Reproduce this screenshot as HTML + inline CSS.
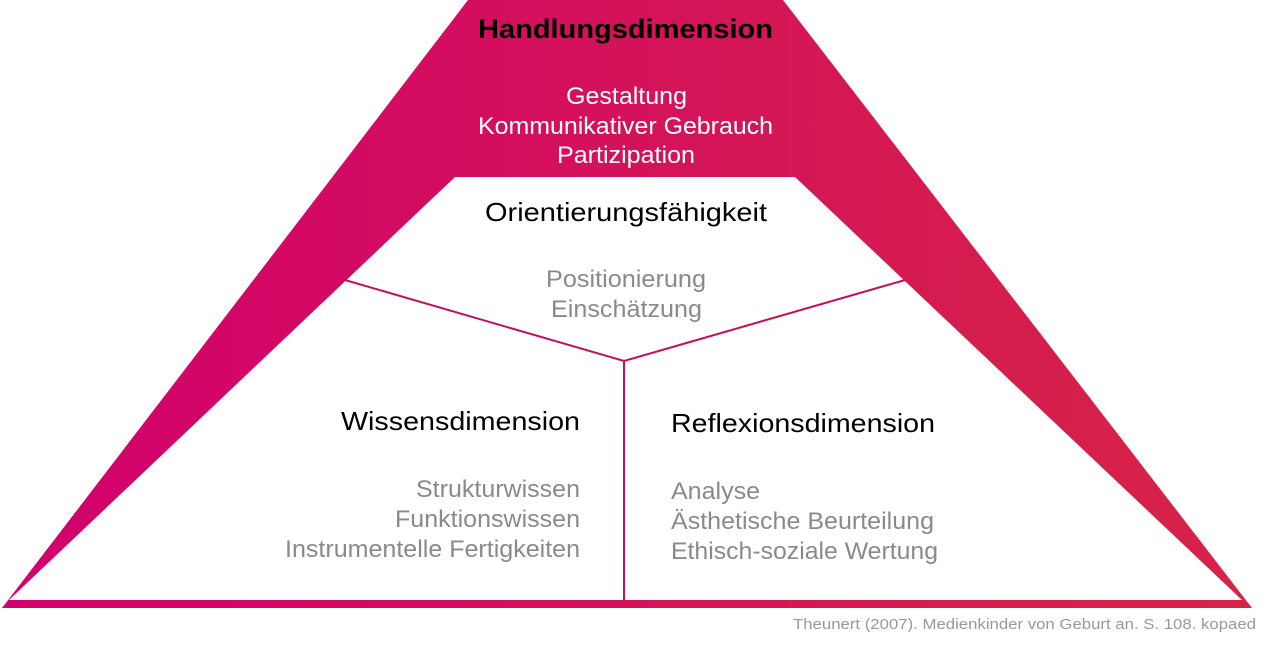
<!DOCTYPE html>
<html><head><meta charset="utf-8"><style>
html,body{margin:0;padding:0;background:#fff;width:1271px;height:645px;overflow:hidden}
svg{display:block}
text{font-family:"Liberation Sans",sans-serif}
</style></head><body>
<svg width="1271" height="645" viewBox="0 0 1271 645">
<defs>
<linearGradient id="g" x1="0" y1="0" x2="1" y2="0">
<stop offset="0" stop-color="#d2006e"/>
<stop offset="1" stop-color="#d62446"/>
</linearGradient>
</defs>
<polygon points="468,0 783,0 1252,608 2,608" fill="url(#g)"/>
<polygon points="455,177 795,177 1242,600 9,600" fill="#fff"/>
<g stroke="#c3105a" stroke-width="2" fill="none">
<polyline points="345,280 624,361 905,280"/>
<line x1="624" y1="361" x2="624" y2="600"/>
</g>
<text x="478" y="38" font-size="27" font-weight="bold" fill="#000" textLength="295" lengthAdjust="spacingAndGlyphs">Handlungsdimension</text>
<g fill="#fff" font-size="24" lengthAdjust="spacingAndGlyphs">
<text x="566" y="104" textLength="121" lengthAdjust="spacingAndGlyphs">Gestaltung</text>
<text x="478" y="134" textLength="295" lengthAdjust="spacingAndGlyphs">Kommunikativer Gebrauch</text>
<text x="557" y="163" textLength="138" lengthAdjust="spacingAndGlyphs">Partizipation</text>
</g>
<text x="485" y="221" font-size="26" fill="#000" textLength="282" lengthAdjust="spacingAndGlyphs">Orientierungsfähigkeit</text>
<g fill="#8a8a8a" font-size="24">
<text x="546" y="287" textLength="160" lengthAdjust="spacingAndGlyphs">Positionierung</text>
<text x="551" y="317" textLength="151" lengthAdjust="spacingAndGlyphs">Einschätzung</text>
</g>
<text x="341" y="430" font-size="26" fill="#000" textLength="239" lengthAdjust="spacingAndGlyphs">Wissensdimension</text>
<g fill="#8a8a8a" font-size="24">
<text x="416" y="497" textLength="164" lengthAdjust="spacingAndGlyphs">Strukturwissen</text>
<text x="395" y="527" textLength="185" lengthAdjust="spacingAndGlyphs">Funktionswissen</text>
<text x="285" y="557" textLength="295" lengthAdjust="spacingAndGlyphs">Instrumentelle Fertigkeiten</text>
</g>
<text x="671" y="432" font-size="26" fill="#000" textLength="264" lengthAdjust="spacingAndGlyphs">Reflexionsdimension</text>
<g fill="#8a8a8a" font-size="24">
<text x="671" y="499" textLength="89" lengthAdjust="spacingAndGlyphs">Analyse</text>
<text x="671" y="529" textLength="263" lengthAdjust="spacingAndGlyphs">Ästhetische Beurteilung</text>
<text x="671" y="559" textLength="267" lengthAdjust="spacingAndGlyphs">Ethisch-soziale Wertung</text>
</g>
<text x="1256" y="629" font-size="15" fill="#999" text-anchor="end" textLength="463" lengthAdjust="spacingAndGlyphs">Theunert (2007). Medienkinder von Geburt an. S. 108. kopaed</text>
</svg>
</body></html>
